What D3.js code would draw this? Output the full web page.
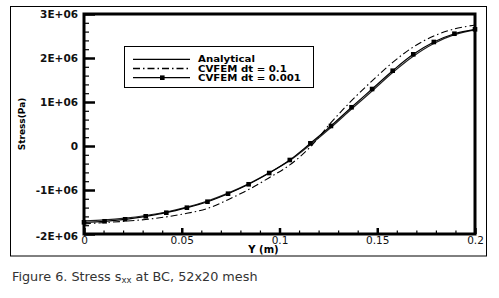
<!DOCTYPE html>
<html>
<head>
<meta charset="utf-8">
<script src="https://cdn.jsdelivr.net/npm/d3@7"></script>
<style>
    body { margin: 0; background: #fff; }
    svg { display: block; }
    .tick text { font-family: "DejaVu Sans", sans-serif; fill: #111; }
</style>
</head>
<body>
<svg id="chart" width="499" height="298"></svg>
<script>
// values (Y in m, stress in Pa)
const yPos = d3.range(20).map(i => i * 0.2 / 19);
const analytical = [-1.70e6, -1.68e6, -1.64e6, -1.58e6, -1.50e6, -1.39e6, -1.25e6, -1.07e6, -0.86e6, -0.61e6,
    -0.33e6, 0.03e6, 0.42e6, 0.84e6, 1.25e6, 1.67e6, 2.04e6, 2.33e6, 2.53e6, 2.64e6];
const cvfemDt01 = [-1.77e6, -1.74e6, -1.71e6, -1.67e6, -1.61e6, -1.53e6, -1.42e6, -1.22e6, -0.99e6, -0.72e6,
    -0.43e6, -0.02e6, 0.53e6, 1.03e6, 1.48e6, 1.90e6, 2.25e6, 2.50e6, 2.66e6, 2.75e6];
const cvfemDt0001 = [-1.734e6, -1.711e6, -1.666e6, -1.598e6, -1.516e6, -1.402e6, -1.266e6, -1.084e6, -0.870e6, -0.614e6,
    -0.318e6, 0.061e6, 0.455e6, 0.880e6, 1.295e6, 1.711e6, 2.084e6, 2.364e6, 2.552e6, 2.652e6];
const xTicks = [0, 0.05, 0.1, 0.15, 0.2];
const yTicks = [-2e6, -1e6, 0, 1e6, 2e6, 3e6];
const legendLabels = ['Analytical', 'CVFEM dt = 0.1', 'CVFEM dt = 0.001'];

const svg = d3.select('#chart');
const margin = { top: 14, right: 24, bottom: 64, left: 84 };
const width = 499, height = 298;

const x = d3.scaleLinear().domain([0, 0.2]).range([margin.left, width - margin.right]);
const y = d3.scaleLinear().domain([-2e6, 3e6]).range([height - margin.bottom, margin.top]);

// outer figure frame
svg.append('rect')
    .attr('x', 10.5).attr('y', 6.5)
    .attr('width', 476).attr('height', 249.5)
    .attr('fill', 'none').attr('stroke', '#000').attr('stroke-width', 1);

const yFmt = d => d === 0 ? '0' : `${d / 1e6}E+06`;

// minor ticks
svg.append('g')
    .attr('transform', `translate(${margin.left},0)`)
    .call(d3.axisLeft(y).tickValues(d3.range(-2e6, 3e6 + 1, 2e5)).tickSize(-5).tickFormat(''))
    .call(g => g.select('.domain').remove())
    .selectAll('line').attr('stroke-width', 1.2);

svg.append('g')
    .attr('transform', `translate(0,${y(-2e6)})`)
    .call(d3.axisBottom(x).tickValues(d3.range(0, 0.2001, 0.01)).tickSize(-3.5).tickFormat(''))
    .call(g => g.select('.domain').remove())
    .selectAll('line').attr('stroke-width', 1.2);

// major ticks + labels
const yAxis = svg.append('g')
    .attr('transform', `translate(${margin.left},0)`)
    .call(d3.axisLeft(y).tickValues(yTicks).tickSize(-11).tickPadding(6).tickFormat(yFmt))
    .call(g => g.select('.domain').remove());
yAxis.selectAll('line').attr('stroke-width', 2.5);
yAxis.selectAll('text').attr('font-size', 10.5).attr('font-weight', 'bold');
yAxis.selectAll('.tick').filter(d => d === -2e6).select('text').attr('dy', '0.55em');

const xAxis = svg.append('g')
    .attr('transform', `translate(0,${y(-2e6)})`)
    .call(d3.axisBottom(x).tickValues(xTicks).tickSize(-6).tickPadding(3).tickFormat(d => d3.format('')(d)))
    .call(g => g.select('.domain').remove());
xAxis.selectAll('line').attr('stroke-width', 2.5);
xAxis.selectAll('text').attr('font-size', 10.5).attr('fill', '#222');

// clip path for curves
svg.append('clipPath').attr('id', 'plot-clip')
    .append('rect')
    .attr('x', x(0)).attr('y', y(3e6))
    .attr('width', x(0.2) - x(0)).attr('height', y(-2e6) - y(3e6));

const line = d3.line()
    .x(d => x(d[0]))
    .y(d => y(d[1]))
    .curve(d3.curveCatmullRom);

const plot = svg.append('g').attr('clip-path', 'url(#plot-clip)');

plot.append('path')
    .datum(d3.zip(yPos, cvfemDt01))
    .attr('d', line)
    .attr('fill', 'none').attr('stroke', '#000').attr('stroke-width', 1.1)
    .attr('stroke-dasharray', '7,3,1.5,3');

plot.append('path')
    .datum(d3.zip(yPos, analytical))
    .attr('d', line)
    .attr('fill', 'none').attr('stroke', '#222').attr('stroke-width', 1.2);

plot.append('path')
    .datum(d3.zip(yPos, cvfemDt0001))
    .attr('d', line)
    .attr('fill', 'none').attr('stroke', '#000').attr('stroke-width', 1.2);

svg.append('g').selectAll('rect')
    .data(d3.zip(yPos, cvfemDt0001))
    .join('rect')
    .attr('x', d => x(d[0]) - 2.3)
    .attr('y', d => y(d[1]) - 2.3)
    .attr('width', 4.6).attr('height', 4.6)
    .attr('fill', '#000');

// plot frame
svg.append('rect')
    .attr('x', x(0)).attr('y', y(3e6))
    .attr('width', x(0.2) - x(0)).attr('height', y(-2e6) - y(3e6))
    .attr('fill', 'none').attr('stroke', '#000').attr('stroke-width', 3);

// axis titles
svg.append('text')
    .attr('x', (x(0) + x(0.2)) / 2 - 16)
    .attr('y', 253)
    .attr('text-anchor', 'middle')
    .attr('font-family', 'DejaVu Sans, sans-serif')
    .attr('font-size', 10)
    .attr('font-weight', 'bold')
    .text('Y (m)');

svg.append('text')
    .attr('transform', 'translate(24.5,124) rotate(-90)')
    .attr('text-anchor', 'middle')
    .attr('font-family', 'DejaVu Sans, sans-serif')
    .attr('font-size', 9)
    .attr('font-weight', 'bold')
    .text('Stress(Pa)');

// legend
const legend = svg.append('g').attr('transform', 'translate(124,46)');
legend.append('rect')
    .attr('x', 0.5).attr('y', 0.5)
    .attr('width', 189).attr('height', 41)
    .attr('fill', '#fff').attr('stroke', '#000').attr('stroke-width', 1);

const legendRows = [
    { dash: null, marker: false },
    { dash: '7,3,1.5,3', marker: false },
    { dash: null, marker: true }
];
legendRows.forEach((row, i) => {
    const ly = 13.3 + i * 9.2;
    legend.append('line')
        .attr('x1', 9).attr('x2', 66)
        .attr('y1', ly).attr('y2', ly)
        .attr('stroke', '#000').attr('stroke-width', 1.3)
        .attr('stroke-dasharray', row.dash);
    if (row.marker) {
        legend.append('rect')
            .attr('x', 36).attr('y', ly - 2.3)
            .attr('width', 4.6).attr('height', 4.6).attr('fill', '#000');
    }
    // the source text is stretched sideways
    legend.append('text')
        .attr('transform', `translate(74,${ly + 3.1}) scale(1.2,1)`)
        .attr('font-family', 'DejaVu Sans, sans-serif')
        .attr('font-size', 8.5)
        .attr('font-weight', 'bold')
        .text(legendLabels[i]);
});

// caption
const caption = svg.append('text')
    .attr('x', 12).attr('y', 281)
    .attr('font-family', 'DejaVu Sans, sans-serif')
    .attr('font-size', 12.8)
    .attr('fill', '#333');
caption.append('tspan').text('Figure 6. Stress s');
caption.append('tspan').attr('font-size', 8.5).attr('dy', 2).text('xx');
caption.append('tspan').attr('dy', -2).text(' at BC, 52x20 mesh');
</script>
</body>
</html>
